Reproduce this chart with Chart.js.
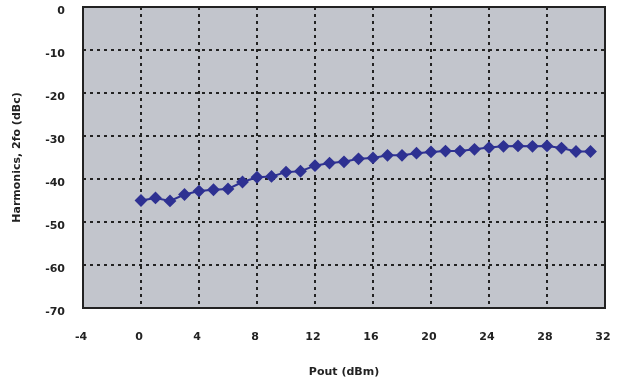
<!DOCTYPE html>
<html lang="en">
<head>
    <meta charset="UTF-8">
    <title>Harmonics vs Pout</title>
    <script src="https://cdn.jsdelivr.net/npm/chart.js"></script>
    <style>
        html, body { margin: 0; padding: 0; background: #ffffff; }
        #wrap { width: 618px; height: 385px; }
    </style>
</head>
<body>
    <div id="wrap"><canvas id="harmChart"></canvas></div>

    <script>
        // 出力電力 (dBm)
        const poutDbm = [0, 1, 2, 3, 4, 5, 6, 7, 8, 9, 10, 11, 12, 13, 14, 15,
                         16, 17, 18, 19, 20, 21, 22, 23, 24, 25, 26, 27, 28, 29, 30, 31];
        // 2次高調波 (dBc)
        const harm2fo = [-45.0, -44.4, -45.1, -43.6, -42.8, -42.5, -42.3, -40.7,
                         -39.6, -39.4, -38.4, -38.2, -36.9, -36.3, -36.0, -35.3,
                         -35.1, -34.5, -34.5, -34.0, -33.7, -33.5, -33.5, -33.1,
                         -32.7, -32.4, -32.3, -32.4, -32.3, -32.8, -33.6, -33.6];
        const xTicks = [-4, 0, 4, 8, 12, 16, 20, 24, 28, 32];
        const yTicks = [0, -10, -20, -30, -40, -50, -60, -70];

        const points = poutDbm.map((x, i) => ({ x: x, y: harm2fo[i] }));
        const labelFont = { family: 'DejaVu Sans', size: 11, weight: 'bold' };

        // プロット領域の背景と枠
        const plotFrame = {
            id: 'plotFrame',
            beforeDraw(chart) {
                const a = chart.chartArea, c = chart.ctx;
                c.save();
                c.fillStyle = '#c2c5cc';
                c.fillRect(a.left, a.top, a.right - a.left, a.bottom - a.top);
                c.restore();
            },
            afterDraw(chart) {
                const a = chart.chartArea, c = chart.ctx;
                c.save();
                c.strokeStyle = '#222222';
                c.lineWidth = 2;
                c.strokeRect(a.left, a.top, a.right - a.left, a.bottom - a.top);
                c.restore();
            }
        };

        // ラベルのはみ出し分の余白を消す
        function noLabelPadding(s) {
            s.paddingTop = 0;
            s.paddingBottom = 0;
            s.paddingLeft = 0;
            s.paddingRight = 0;
        }

        new Chart(document.getElementById('harmChart'), {
            type: 'scatter',
            data: {
                datasets: [{
                    data: points,
                    showLine: true,
                    borderColor: '#2e3192',
                    backgroundColor: '#2e3192',
                    borderWidth: 2,
                    pointStyle: 'rectRot',
                    pointRadius: 5,
                    pointHoverRadius: 5
                }]
            },
            options: {
                responsive: true,
                maintainAspectRatio: false,
                animation: false,
                layout: { padding: { top: 7, right: 13, left: 0, bottom: 0 } },
                plugins: { legend: { display: false }, tooltip: { enabled: false } },
                scales: {
                    x: {
                        type: 'linear',
                        min: -4, max: 32,
                        afterBuildTicks: s => { s.ticks = xTicks.map(v => ({ value: v })); },
                        afterFit: s => { s.height = 77; noLabelPadding(s); },
                        grid: { color: '#222222', lineWidth: 2, drawTicks: false },
                        border: { display: false, dash: [3, 4] },
                        ticks: { color: '#222222', font: labelFont, padding: 23, maxRotation: 0, labelOffset: -2 },
                        title: { display: true, text: 'Pout (dBm)', color: '#222222', font: labelFont,
                                 padding: { top: 0, bottom: 6 } }
                    },
                    y: {
                        type: 'linear',
                        min: -70, max: 0,
                        afterBuildTicks: s => { s.ticks = yTicks.map(v => ({ value: v })); },
                        afterFit: s => { s.width = 83; noLabelPadding(s); },
                        grid: { color: '#222222', lineWidth: 2, drawTicks: false },
                        border: { display: false, dash: [3, 4] },
                        ticks: { color: '#222222', font: labelFont, padding: 18, labelOffset: 4 },
                        title: { display: true, text: 'Harmonics, 2fo (dBc)', color: '#222222', font: labelFont,
                                 padding: { top: 11, bottom: 0 } }
                    }
                }
            },
            plugins: [plotFrame]
        });
    </script>
</body>
</html>
